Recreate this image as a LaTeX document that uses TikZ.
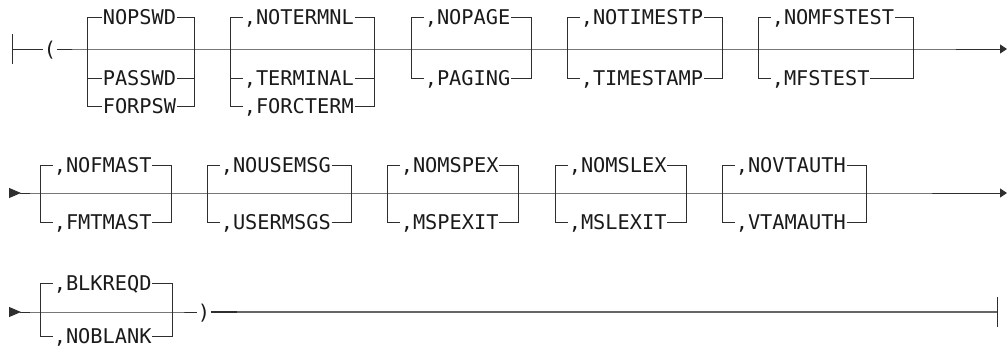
\documentclass[tikz,border=0pt]{standalone}
\usepackage{fontspec}
\setmonofont{DejaVu Sans Mono}
\usepackage{tikz}
\usetikzlibrary{arrows.meta}
\definecolor{RRLine}{HTML}{2E2E2E}
\definecolor{RRText}{HTML}{1A1A1A}
\definecolor{RRGray}{HTML}{666666}

\begin{document}
\begin{tikzpicture}[x=1pt,y=-1pt,
  rail/.style={draw=RRLine,line width=0.9pt},
  kw/.style={anchor=west,inner xsep=0.6pt,inner ysep=0pt,text height=14.6pt,text depth=0pt,text=RRText,font=\ttfamily\fontsize{20.3}{22}\selectfont},
  paren/.style={kw,anchor=center},
  endtip/.style={-{Triangle[length=7pt,width=9pt]}},
  begtip/.style={{Triangle[reversed,length=12pt,width=10pt]}-},
  bothtip/.style={{Triangle[reversed,length=12pt,width=10pt]}-{Triangle[length=7pt,width=9pt]}}]
\useasboundingbox (0,0) rectangle (1007,347);
% row 1
\coordinate (s1) at (12,49);
\node[paren] (lp) at (50,49) {(};
\coordinate (g1l) at (87,49);   \coordinate (g1r) at (194,49);
\coordinate (g2l) at (230,49);  \coordinate (g2r) at (374,49);
\coordinate (g3l) at (411,49);  \coordinate (g3r) at (531,49);
\coordinate (g4l) at (567,49);  \coordinate (g4r) at (722,49);
\coordinate (g5l) at (758,49);  \coordinate (g5r) at (913,49);
\coordinate (e1) at (1007,49);
\node[kw] (nopswd) at (102,17) {NOPSWD};
\node[kw] (passwd) at (102,78) {PASSWD};
\node[kw] (forpsw) at (102,106) {FORPSW};
\node[kw] (notermnl) at (243,17) {,NOTERMNL};
\node[kw] (terminal) at (243,78) {,TERMINAL};
\node[kw] (forcterm) at (243,106) {,FORCTERM};
\node[kw] (nopage) at (424,17) {,NOPAGE};
\node[kw] (paging) at (424,78) {,PAGING};
\node[kw] (notimestp) at (580,17) {,NOTIMESTP};
\node[kw] (timestamp) at (580,78) {,TIMESTAMP};
\node[kw] (nomfstest) at (771,17) {,NOMFSTEST};
\node[kw] (mfstest) at (771,78) {,MFSTEST};
\draw[rail] ([yshift=-15pt]s1) -- ([yshift=15pt]s1);
\draw[rail] (s1) -- (lp.west);
\draw[rail,endtip] (lp.east) -- (g1l) -- (g1r) -- (g2l) -- (g2r) -- (g3l) -- (g3r) -- (g4l) -- (g4r) -- (g5l) -- (g5r) -- (e1);
\draw[rail] (g1l) |- (nopswd.west) (nopswd.east) -| (g1r) (g1l) |- (passwd.west) (passwd.east) -| (g1r) (g1l) |- (forpsw.west) (forpsw.east) -| (g1r);
\draw[rail] (g2l) |- (notermnl.west) (notermnl.east) -| (g2r) (g2l) |- (terminal.west) (terminal.east) -| (g2r) (g2l) |- (forcterm.west) (forcterm.east) -| (g2r);
\draw[rail] (g3l) |- (nopage.west) (nopage.east) -| (g3r) (g3l) |- (paging.west) (paging.east) -| (g3r);
\draw[rail] (g4l) |- (notimestp.west) (notimestp.east) -| (g4r) (g4l) |- (timestamp.west) (timestamp.east) -| (g4r);
\draw[rail] (g5l) |- (nomfstest.west) (nomfstest.east) -| (g5r) (g5l) |- (mfstest.west) (mfstest.east) -| (g5r);
% row 2
\coordinate (s2) at (9,193);
\coordinate (g6l) at (40,193);   \coordinate (g6r) at (171,193);
\coordinate (g7l) at (207,193);  \coordinate (g7r) at (351,193);
\coordinate (g8l) at (387,193);  \coordinate (g8r) at (518,193);
\coordinate (g9l) at (555,193);  \coordinate (g9r) at (686,193);
\coordinate (g10l) at (722,193); \coordinate (g10r) at (866,193);
\coordinate (e2) at (1007,193);
\node[kw] (nofmast) at (53,165) {,NOFMAST};
\node[kw] (fmtmast) at (53,222) {,FMTMAST};
\node[kw] (nousemsg) at (220,165) {,NOUSEMSG};
\node[kw] (usermsgs) at (220,222) {,USERMSGS};
\node[kw] (nomspex) at (400,165) {,NOMSPEX};
\node[kw] (mspexit) at (400,222) {,MSPEXIT};
\node[kw] (nomslex) at (568,165) {,NOMSLEX};
\node[kw] (mslexit) at (568,222) {,MSLEXIT};
\node[kw] (novtauth) at (735,165) {,NOVTAUTH};
\node[kw] (vtamauth) at (735,222) {,VTAMAUTH};
\draw[rail,bothtip] (s2) -- (g6l) -- (g6r) -- (g7l) -- (g7r) -- (g8l) -- (g8r) -- (g9l) -- (g9r) -- (g10l) -- (g10r) -- (e2);
\draw[rail] (g6l) |- (nofmast.west) (nofmast.east) -| (g6r) (g6l) |- (fmtmast.west) (fmtmast.east) -| (g6r);
\draw[rail] (g7l) |- (nousemsg.west) (nousemsg.east) -| (g7r) (g7l) |- (usermsgs.west) (usermsgs.east) -| (g7r);
\draw[rail] (g8l) |- (nomspex.west) (nomspex.east) -| (g8r) (g8l) |- (mspexit.west) (mspexit.east) -| (g8r);
\draw[rail] (g9l) |- (nomslex.west) (nomslex.east) -| (g9r) (g9l) |- (mslexit.west) (mslexit.east) -| (g9r);
\draw[rail] (g10l) |- (novtauth.west) (novtauth.east) -| (g10r) (g10l) |- (vtamauth.west) (vtamauth.east) -| (g10r);
% row 3
\coordinate (s3) at (9,312);
\coordinate (g11l) at (40,312);  \coordinate (g11r) at (172,312);
\node[paren] (rp) at (204,312) {)};
\coordinate (stub) at (237,312);
\coordinate (e3) at (997,312);
\node[kw] (blkreqd) at (53,283) {,BLKREQD};
\node[kw] (noblank) at (53,336) {,NOBLANK};
\draw[rail,begtip] (s3) -- (g11l) -- (g11r) -- (rp.west);
\draw[rail] (g11l) |- (blkreqd.west) (blkreqd.east) -| (g11r) (g11l) |- (noblank.west) (noblank.east) -| (g11r);
\draw[rail,line width=1.3pt] (rp.east) -- (stub);
\draw[rail,draw=RRGray,line width=1.3pt] (stub) -- (e3);
\draw[rail] ([yshift=-15pt]e3) -- ([yshift=15pt]e3);
\end{tikzpicture}
\end{document}
